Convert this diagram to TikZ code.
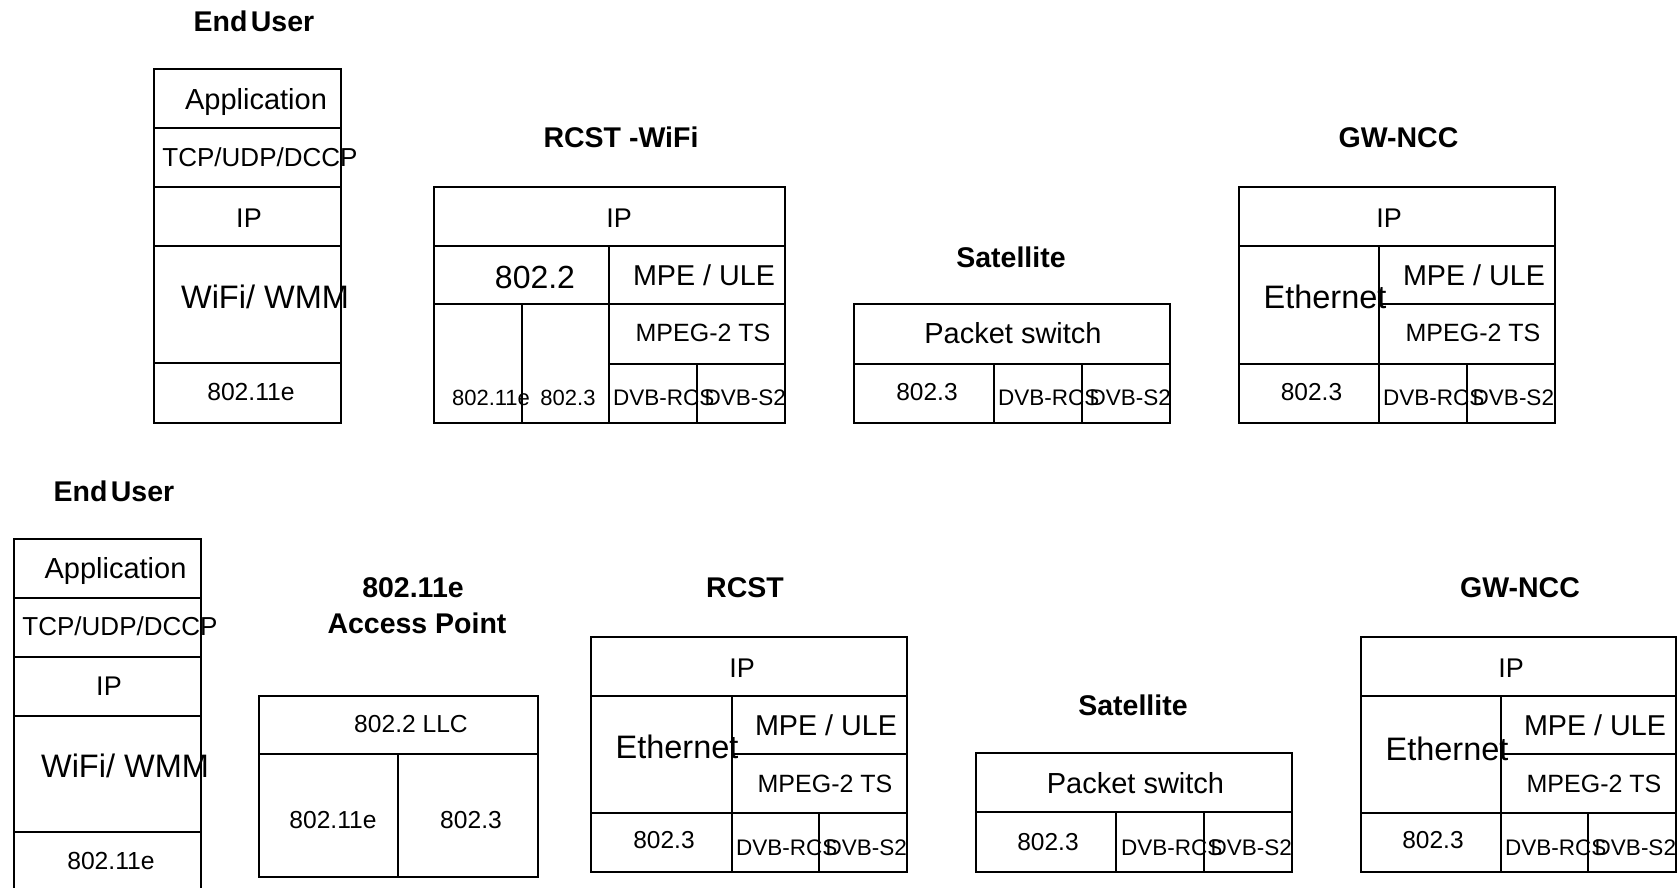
\documentclass[tikz,border=0pt]{standalone}
\usepackage{fontspec}
\setmainfont{Liberation Sans}
\newcommand\fsz[1]{\fontsize{#1}{#1}\selectfont}
\tikzset{
  ln/.style={line width=1.8pt, line cap=rect},
  lab/.style={anchor=base, inner sep=0pt, outer sep=0pt},
  labw/.style={anchor=base west, inner sep=0pt, outer sep=0pt},
  labe/.style={anchor=base east, inner sep=0pt, outer sep=0pt},
  ttl/.style={lab, font=\bfseries\fsz{28.5}},
  fA/.style={font=\fsz{29}},
  fT/.style={font=\fsz{26}},
  fI/.style={font=\fsz{27}},
  fW/.style={font=\fsz{32.5}},
  fE/.style={font=\fsz{24.7}},
  fbig/.style={font=\fsz{32}},
  fmpe/.style={font=\fsz{28.7}},
  fmpeg/.style={font=\fsz{25}},
  fsm/.style={font=\fsz{22}},
  fdvb/.style={font=\fsz{22.5}},
  fpkt/.style={font=\fsz{29}},
  fe3/.style={font=\fsz{24.5}},
  feth/.style={font=\fsz{32.5}},
  fap/.style={font=\fsz{24.6}},
}
\begin{document}
\begin{tikzpicture}[x=1pt,y=-1pt]
\useasboundingbox (0,0) rectangle (1678,888);
\clip (0,0) rectangle (1678,888);
\fill[white] (0,0) rectangle (1678,888);

% ---------------- Top row ----------------
% End user (top)
\draw[ln] (154,69) rectangle (341,423);
\draw[ln] (154,128) -- (341,128);
\draw[ln] (154,187) -- (341,187);
\draw[ln] (154,246) -- (341,246);
\draw[ln] (154,363) -- (341,363);
\node[ttl] (eu1t) at (254,32) {End\hspace{0.12em}User};
\node[lab,fA] (eu1a) at (256,110) {Application};
\node[lab,fT] (eu1b) at (260,166) {TCP/UDP/DCCP};
\node[lab,fI] (eu1c) at (249,227) {IP};
\node[lab,fW] (eu1d) at (265,308) {WiFi/ WMM};
\node[lab,fE] (eu1e) at (251,400) {802.11e};

% RCST-WiFi
\draw[ln] (434,187) rectangle (785,423);
\draw[ln] (434,246) -- (785,246);
\draw[ln] (434,304) -- (785,304);
\draw[ln] (609,364) -- (785,364);
\draw[ln] (522,304) -- (522,423);
\draw[ln] (609,246) -- (609,423);
\draw[ln] (697,364) -- (697,423);
\node[ttl] (rw0) at (621,147) {RCST -WiFi};
\node[lab,fI] (rw1) at (619,227) {IP};
\node[lab,fbig] (rw2) at (535,288) {802.2};
\node[lab,fmpe] (rw3) at (704,285) {MPE / ULE};
\node[lab,fmpeg] (rw4) at (703,341) {MPEG-2 TS};
\node[lab,fsm] (rw5) at (491,405) {802.11e};
\node[lab,fsm] (rw6) at (568,405) {802.3};
\node[labw,fdvb] (rw7) at (613,405) {DVB-RCS};
\node[labe,fdvb] (rw8) at (786,405) {DVB-S2};

% Satellite (top)
\draw[ln] (854,304) rectangle (1170,423);
\draw[ln] (854,364) -- (1170,364);
\draw[ln] (994,364) -- (994,423);
\draw[ln] (1082,364) -- (1082,423);
\node[ttl] (s1t) at (1011,267) {Satellite};
\node[lab,fpkt] (s1a) at (1013,343) {Packet switch};
\node[lab,fe3] (s1b) at (927,400) {802.3};
\node[labw,fdvb] (s1c) at (998,405) {DVB-RCS};
\node[labe,fdvb] (s1d) at (1171,405) {DVB-S2};

% GW-NCC (top)
\draw[ln] (1239,187) rectangle (1555,423);
\draw[ln] (1239,246) -- (1555,246);
\draw[ln] (1379,304) -- (1555,304);
\draw[ln] (1239,364) -- (1555,364);
\draw[ln] (1379,246) -- (1379,423);
\draw[ln] (1467,364) -- (1467,423);
\node[ttl] (g1t) at (1398.5,147) {GW-NCC};
\node[lab,fI] (g1a) at (1389,227) {IP};
\node[lab,feth] (g1b) at (1325,308) {Ethernet};
\node[lab,fmpe] (g1c) at (1474,285) {MPE / ULE};
\node[lab,fmpeg] (g1d) at (1473,341) {MPEG-2 TS};
\node[lab,fe3] (g1e) at (1311.5,400) {802.3};
\node[labw,fdvb] (g1f) at (1383,405) {DVB-RCS};
\node[labe,fdvb] (g1g) at (1554,405) {DVB-S2};

% ---------------- Bottom row ----------------
% End user (bottom)
\draw[ln] (14,539) rectangle (201,892);
\draw[ln] (14,598) -- (201,598);
\draw[ln] (14,657) -- (201,657);
\draw[ln] (14,716) -- (201,716);
\draw[ln] (14,832) -- (201,832);
\node[ttl] (eu2t) at (114,501) {End\hspace{0.12em}User};
\node[lab,fA] (eu2a) at (115.5,578) {Application};
\node[lab,fT] (eu2b) at (120,635) {TCP/UDP/DCCP};
\node[lab,fI] (eu2c) at (109,695) {IP};
\node[lab,fW] (eu2d) at (125,777) {WiFi/ WMM};
\node[lab,fE] (eu2e) at (111,869) {802.11e};

% Access point
\draw[ln] (259,696) rectangle (538,877);
\draw[ln] (259,754) -- (538,754);
\draw[ln] (398,754) -- (398,877);
\node[ttl] (ap0) at (413,597) {802.11e};
\node[ttl] (ap1) at (417,633) {Access Point};
\node[lab,fap] (ap2) at (411,732) {802.2 LLC};
\node[lab,fap] (ap3) at (333,828) {802.11e};
\node[lab,fap] (ap4) at (471,828) {802.3};

% RCST (bottom)
\draw[ln] (591,637) rectangle (907,872);
\draw[ln] (591,696) -- (907,696);
\draw[ln] (732,754) -- (907,754);
\draw[ln] (591,813) -- (907,813);
\draw[ln] (732,696) -- (732,872);
\draw[ln] (819,813) -- (819,872);
\node[ttl] (r2t) at (745,597) {RCST};
\node[lab,fI] (r2a) at (742,677) {IP};
\node[lab,feth] (r2b) at (677,758) {Ethernet};
\node[lab,fmpe] (r2c) at (826,735) {MPE / ULE};
\node[lab,fmpeg] (r2d) at (825,792) {MPEG-2 TS};
\node[lab,fe3] (r2e) at (664,848) {802.3};
\node[labw,fdvb] (r2f) at (736,855) {DVB-RCS};
\node[labe,fdvb] (r2g) at (907,855) {DVB-S2};

% Satellite (bottom)
\draw[ln] (976,753) rectangle (1292,872);
\draw[ln] (976,812) -- (1292,812);
\draw[ln] (1116,812) -- (1116,872);
\draw[ln] (1204,812) -- (1204,872);
\node[ttl] (s2t) at (1133,715) {Satellite};
\node[lab,fpkt] (s2a) at (1135.5,793) {Packet switch};
\node[lab,fe3] (s2b) at (1048,850) {802.3};
\node[labw,fdvb] (s2c) at (1121,855) {DVB-RCS};
\node[labe,fdvb] (s2d) at (1292,855) {DVB-S2};

% GW-NCC (bottom)
\draw[ln] (1361,637) rectangle (1676,872);
\draw[ln] (1361,696) -- (1676,696);
\draw[ln] (1501,754) -- (1676,754);
\draw[ln] (1361,813) -- (1676,813);
\draw[ln] (1501,696) -- (1501,872);
\draw[ln] (1588,813) -- (1588,872);
\node[ttl] (g2t) at (1520,597) {GW-NCC};
\node[lab,fI] (g2a) at (1511,677) {IP};
\node[lab,feth] (g2b) at (1447,760) {Ethernet};
\node[lab,fmpe] (g2c) at (1595,735) {MPE / ULE};
\node[lab,fmpeg] (g2d) at (1594,792) {MPEG-2 TS};
\node[lab,fe3] (g2e) at (1433,848) {802.3};
\node[labw,fdvb] (g2f) at (1505,855) {DVB-RCS};
\node[labe,fdvb] (g2g) at (1676,855) {DVB-S2};
\end{tikzpicture}
\end{document}
